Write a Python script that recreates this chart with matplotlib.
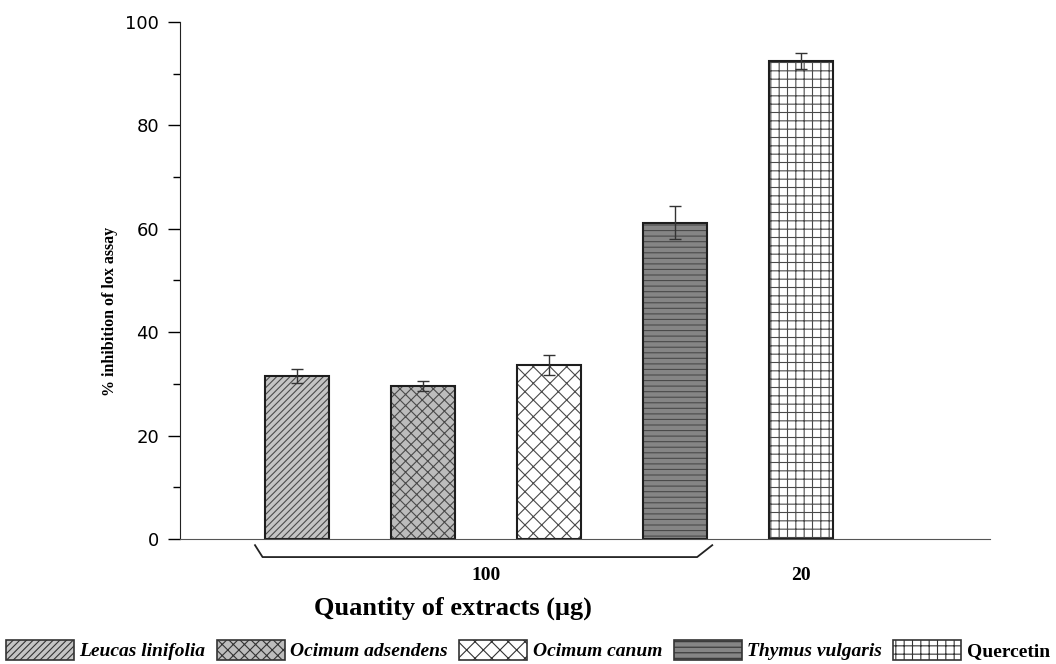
import matplotlib.pyplot as plt
import matplotlib.transforms as mtransforms
from matplotlib.patches import Patch
import numpy as np

# data
extracts = ['Leucas linifolia', 'Ocimum adsendens', 'Ocimum canum',
            'Thymus vulgaris', 'Quercetin']
inhibition = [31.5, 29.6, 33.6, 61.2, 92.5]
errors = [1.3, 1.0, 1.9, 3.2, 1.5]
group_labels = ['100', '20']

faces = ['#c4c4c4', '#bcbcbc', '#ffffff', '#858585', '#ffffff']
hatches = ['/////', 'xxx', 'xx', '---', '++']
italic = [True, True, True, True, False]

plt.rcParams['hatch.linewidth'] = 0.8

fig = plt.figure(figsize=(10.56, 6.64), dpi=100)
ax = fig.add_axes([0.1705, 0.1883, 0.767, 0.7786])

x = np.arange(1, len(inhibition) + 1)
width = 0.51
# hatch first in a softer grey, then the dark outline on top
ax.bar(x, inhibition, width=width, color=faces, edgecolor='#4a4a4a',
       hatch=hatches, linewidth=0, zorder=2)
ax.bar(x, inhibition, width=width, color='none', edgecolor='#1e1e1e',
       linewidth=1.5, zorder=2.5)
ax.errorbar(x, inhibition, yerr=errors, fmt='none', ecolor='#333333',
            elinewidth=1, capsize=4.5, capthick=1, zorder=3)

ax.set_xlim(0.07, 6.5)
ax.set_ylim(0, 100)
ax.set_yticks(np.arange(0, 101, 20))
ax.set_yticks(np.arange(10, 100, 20), minor=True)
ax.tick_params(axis='y', which='major', length=9, width=1, labelsize=13,
               direction='out', pad=6)
ax.tick_params(axis='y', which='minor', length=5, width=1, direction='out')
ax.tick_params(axis='x', length=0)
ax.set_xticks([])
for s in ['top', 'right']:
    ax.spines[s].set_visible(False)
ax.spines['left'].set_color('#222222')
ax.spines['bottom'].set_color('#555555')

serif = 'Liberation Serif'
ax.set_ylabel('% inhibition of lox assay', fontfamily=serif,
              fontweight='bold', fontsize=11.5)
ax.yaxis.set_label_coords(-0.076, 0.44)

# brace under the 100 ug group
tr = mtransforms.blended_transform_factory(ax.transData, ax.transAxes)
left = x[0] - width / 2 - 0.08
right = x[3] + width / 2 + 0.04
ax.plot([left, left + 0.06, right - 0.12, right],
        [-0.012, -0.035, -0.035, -0.012], color='#222222', lw=1.3,
        transform=tr, clip_on=False)
ax.text(x[:4].mean(), -0.07, group_labels[0], transform=tr, ha='center',
        va='center', fontfamily=serif, fontweight='bold', fontsize=14)
ax.text(x[4], -0.07, group_labels[1], transform=tr, ha='center',
        va='center', fontfamily=serif, fontweight='bold', fontsize=14)

ax.text(0.337, -0.135, 'Quantity of extracts (\u03bcg)', transform=ax.transAxes,
        ha='center', va='center', fontfamily=serif, fontweight='bold',
        fontsize=19)

handles = [Patch(facecolor=f, edgecolor='#333333', hatch=h, linewidth=1.2)
           for f, h in zip(faces, hatches)]
leg = fig.legend(handles, extracts, loc='center', ncol=5,
                 bbox_to_anchor=(0.5, 0.021), frameon=False,
                 handlelength=3.5, handleheight=1.23, handletextpad=0.3,
                 columnspacing=0.57, borderpad=0, borderaxespad=0,
                 prop={'family': serif, 'weight': 'bold', 'size': 14})
for t, it in zip(leg.get_texts(), italic):
    if it:
        t.set_fontstyle('italic')

fig.savefig('out.png', dpi=100)
